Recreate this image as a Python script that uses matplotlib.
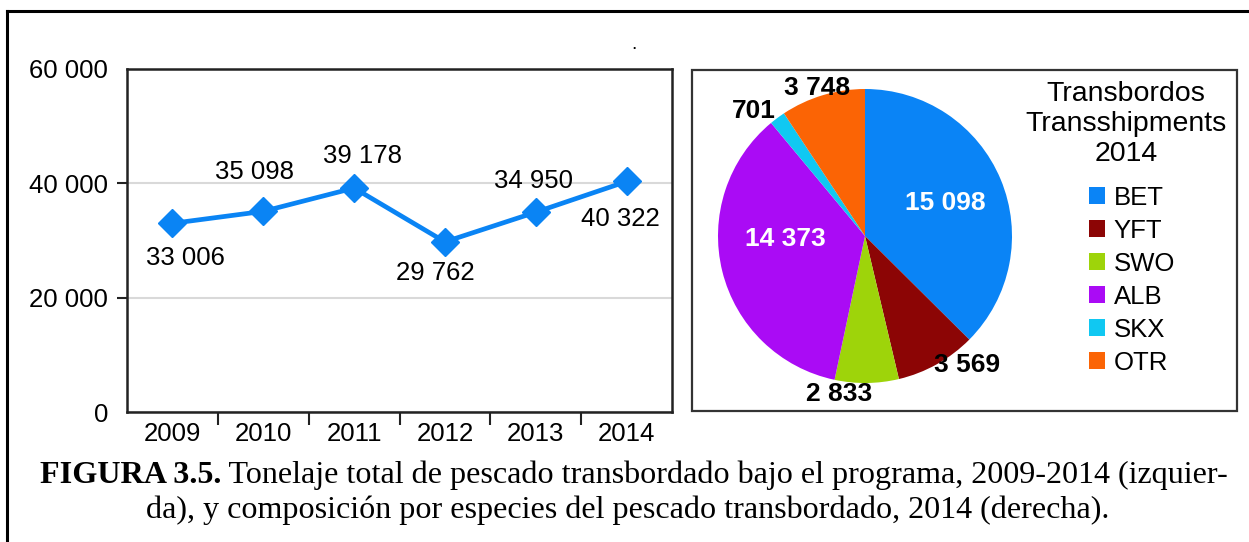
import matplotlib
matplotlib.use('Agg')
import matplotlib.pyplot as plt
from matplotlib.lines import Line2D
from matplotlib.patches import Rectangle, Patch
import numpy as np

# ---------------- data ----------------
years = ['2009', '2010', '2011', '2012', '2013', '2014']
tonnage = [33006, 35098, 39178, 29762, 34950, 40322]
tonnage_labels = ['33 006', '35 098', '39 178', '29 762', '34 950', '40 322']
y_ticks = [0, 20000, 40000, 60000]
y_tick_labels = ['0', '20 000', '40 000', '60 000']

species = ['BET', 'YFT', 'SWO', 'ALB', 'SKX', 'OTR']
species_tons = [15098, 3569, 2833, 14373, 701, 3748]
species_labels = ['15 098', '3 569', '2 833', '14 373', '701', '3 748']

legend_title = 'Transbordos\nTransshipments\n2014'
caption_bold = 'FIGURA 3.5.'
caption_rest = ' Tonelaje total de pescado transbordado bajo el programa, 2009-2014 (izquier-'
caption_line2 = 'da), y composición por especies del pescado transbordado, 2014 (derecha).'

# ---------------- styles / layout ----------------
line_blue = '#0A84F4'
species_colors = ['#0A84F6', '#8C0505', '#9ED40A', '#AA0BF5', '#10C8F2', '#FB6405']
label_colors = ['white', 'black', 'black', 'white', 'black', 'black']
# label placement relative to wedge mid-angle: (angle shift deg, radius factor)
label_place = [(0, 0.59), (9, 1.12), (-10, 1.09), (-12, 0.54), (5, 1.14), (1, 1.06)]
# data-label offsets in pixels (dx, dy downwards)
point_label_off = [(13, 35), (-9, -39), (8, -32), (-10, 31), (-2, -31), (-6, 38)]

plt.rcParams['font.family'] = ['Liberation Sans', 'DejaVu Sans']

W, H = 1249, 542
fig = plt.figure(figsize=(W / 100, H / 100), dpi=100)


def fx(px):
    return px / W


def fy(py):
    return 1 - py / H


# outer frame (top and left only)
fig.add_artist(Line2D([fx(7), 1.0], [fy(11), fy(11)], color='black', lw=2.2,
                      transform=fig.transFigure))
fig.add_artist(Line2D([fx(7), fx(7)], [fy(11), 0.0], color='black', lw=2.2,
                      transform=fig.transFigure))
fig.text(fx(634), fy(49), '.', fontsize=14, ha='center', va='baseline')

# ---------------- line chart ----------------
ax = fig.add_axes([fx(127), fy(412), fx(672) - fx(127), fy(69) - fy(412)])
xpos = np.arange(len(years))
ax.plot(xpos, tonnage, color=line_blue, lw=3.4, marker='D', ms=14,
        mec=line_blue, mfc=line_blue, zorder=3, clip_on=False)
ax.set_xlim(-0.5, len(years) - 0.5)
ax.set_ylim(0, 60000)
ax.set_yticks(y_ticks)
ax.set_yticklabels(y_tick_labels, fontsize=18.5)
ax.set_xticks(xpos)
ax.set_xticklabels(years, fontsize=18.5)
ax.set_xticks(np.arange(0.5, len(years) - 1, 1), minor=True)
ax.tick_params(axis='x', which='major', length=0, pad=7)
ax.tick_params(axis='x', which='minor', length=9, width=1.5, color='#222222')
ax.tick_params(axis='y', length=7.5, width=1.5, pad=6, color='#222222')
yt = ax.yaxis.get_major_ticks()
yt[0].tick1line.set_visible(False)
yt[-1].tick1line.set_visible(False)
ax.grid(axis='y', color='#d9d9d9', lw=1.5)
ax.set_axisbelow(True)
for s in ax.spines.values():
    s.set_linewidth(1.8)
    s.set_color('#222222')

for xi, yi, lbl, (dx, dy) in zip(xpos, tonnage, tonnage_labels, point_label_off):
    ax.annotate(lbl, (xi, yi), xytext=(dx * 0.72, -dy * 0.72),
                textcoords='offset points', ha='center', va='center', fontsize=18.5)

# ---------------- pie chart ----------------
fig.add_artist(Rectangle((fx(692), fy(411)), fx(1237) - fx(692), fy(70) - fy(411),
                         transform=fig.transFigure, fill=False, ec='#333333', lw=1.6))

cx, cy, R = 865, 236, 147
pax = fig.add_axes([fx(cx - R), fy(cy + R), 2 * R / W, 2 * R / H])
wedges, _ = pax.pie(species_tons, colors=species_colors, startangle=90,
                    counterclock=False, radius=1,
                    wedgeprops=dict(linewidth=0))
pax.set_xlim(-1, 1)
pax.set_ylim(-1, 1)
pax.axis('off')
for w, lbl, col, (dth, rf) in zip(wedges, species_labels, label_colors, label_place):
    mid = np.deg2rad((w.theta1 + w.theta2) / 2 + dth)
    pax.text(rf * np.cos(mid), rf * np.sin(mid), lbl, ha='center', va='center',
             fontsize=19, fontweight='bold', color=col, clip_on=False)

fig.text(fx(1126), fy(81), legend_title, ha='center', va='top', fontsize=20.5,
         linespacing=1.2)
handles = [Patch(facecolor=c, edgecolor='none') for c in species_colors]
fig.legend(handles, species, loc='upper left', bbox_to_anchor=(fx(1089), fy(186)),
           frameon=False, fontsize=18.5, handlelength=0.64, handleheight=0.64,
           handletextpad=0.32, labelspacing=0.35, borderpad=0, borderaxespad=0)

# ---------------- caption ----------------
serif = ['Liberation Serif', 'DejaVu Serif']
fs = 21.0
tb = fig.text(fx(40), fy(483), caption_bold, family=serif, fontweight='bold',
              fontsize=fs, va='baseline', ha='left')
tr = fig.text(fx(40), fy(483), caption_rest, family=serif, fontsize=fs,
              va='baseline', ha='left')
fig.canvas.draw()
r = fig.canvas.get_renderer()
total = tb.get_window_extent(r).width + tr.get_window_extent(r).width
fs = fs * (1227 - 40) / total
tb.set_fontsize(fs)
tr.set_fontsize(fs)
fig.canvas.draw()
wb = tb.get_window_extent(r)
tr.set_x(wb.x1 / W)
fig.text(fx(628), fy(518), caption_line2, family=serif, fontsize=fs,
         va='baseline', ha='center')

fig.savefig('out.png', dpi=100)
